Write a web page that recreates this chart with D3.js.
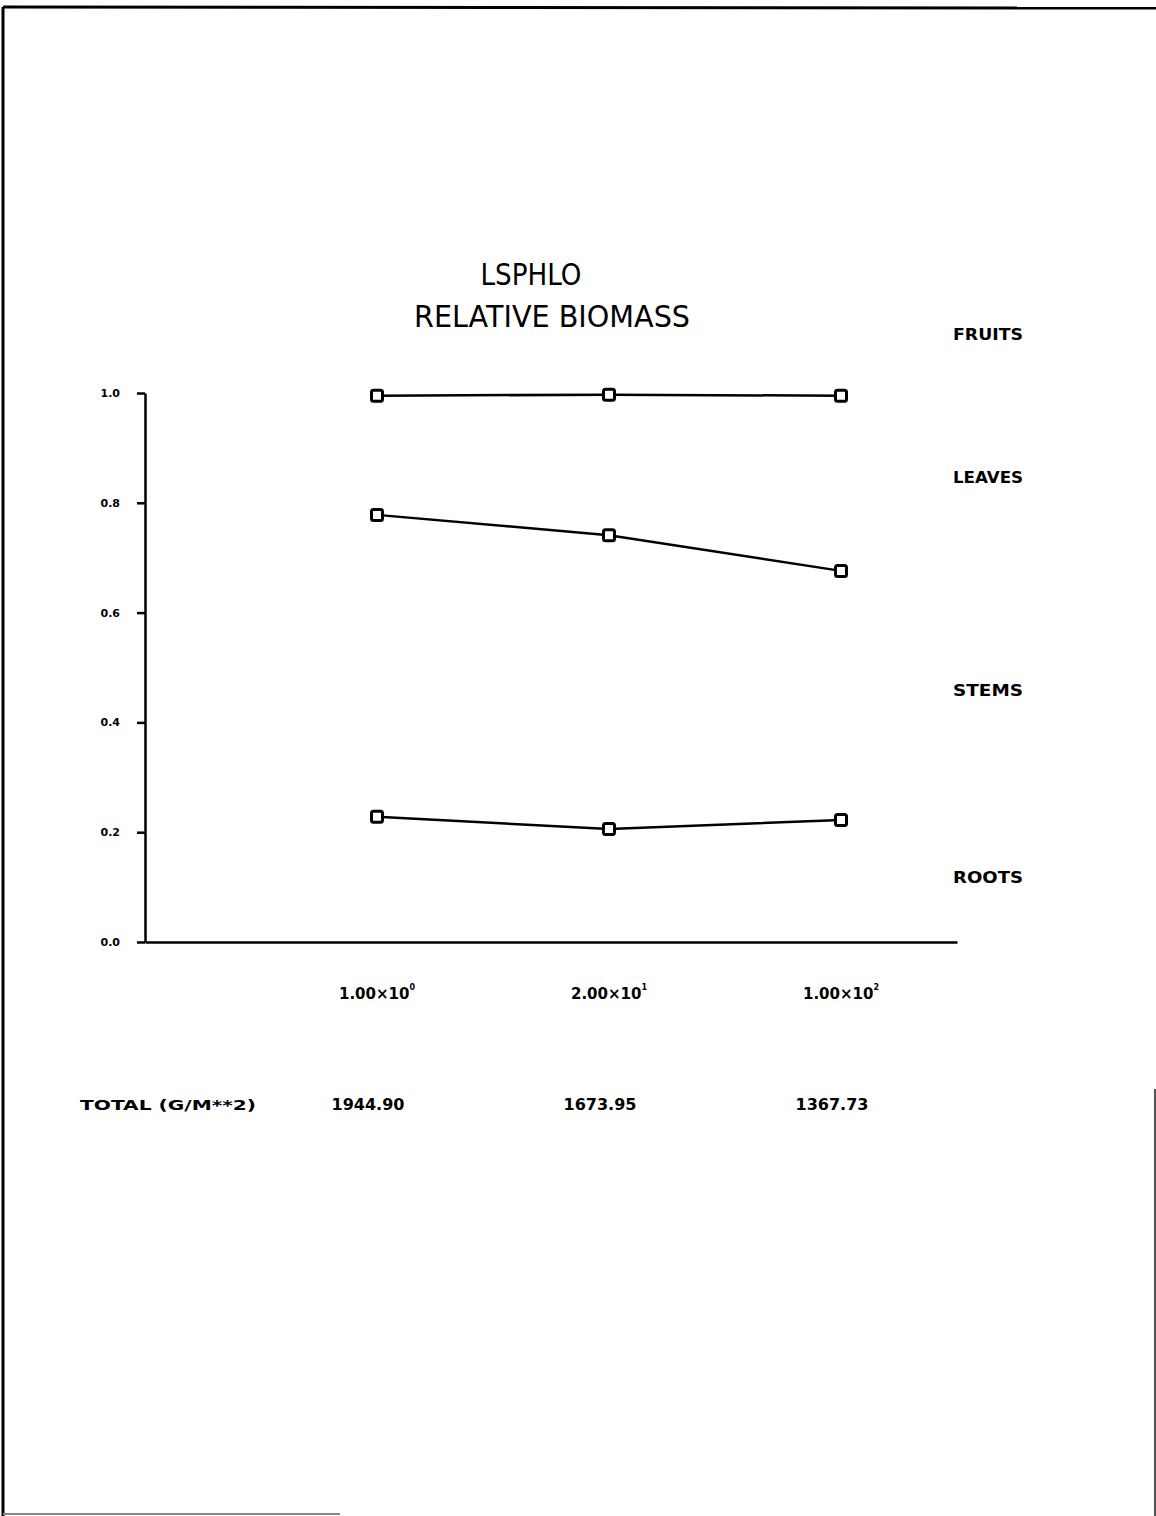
<!DOCTYPE html>
<html><head><meta charset="utf-8">
<script src="https://cdn.jsdelivr.net/npm/d3@7"></script>
<style>body{margin:0;background:#fff}svg{display:block}</style>
</head><body>
<script>
const categories = ["1.00×10|0", "2.00×10|1", "1.00×10|2"];
const totals = ["1944.90", "1673.95", "1367.73"];
const leavesTop = [0.995, 0.997, 0.995];
const stemsTop = [0.778, 0.741, 0.676];
const rootsTop = [0.228, 0.206, 0.222];
const yTicks = [0.0, 0.2, 0.4, 0.6, 0.8, 1.0];
const regionLabels = [
  {name: "FRUITS", v: 1.11},
  {name: "LEAVES", v: 0.848},
  {name: "STEMS", v: 0.461},
  {name: "ROOTS", v: 0.121}
];

const W = 1156, H = 1516;
const svg = d3.select("body").append("svg").attr("width", W).attr("height", H);

// page border
svg.append("line").attr("x1",3).attr("x2",3).attr("y1",7).attr("y2",H).attr("stroke","#000").attr("stroke-width",3);
svg.append("line").attr("x1",3).attr("x2",W).attr("y1",7).attr("y2",8).attr("stroke","#000").attr("stroke-width",3);
svg.append("line").attr("x1",3).attr("x2",340).attr("y1",1514).attr("y2",1514).attr("stroke","#888").attr("stroke-width",2);
svg.append("line").attr("x1",1155).attr("x2",1155).attr("y1",1089).attr("y2",H).attr("stroke","#555").attr("stroke-width",2);

const y = d3.scaleLinear().domain([0,1]).range([942,393]);
const x = d3.scalePoint().domain(d3.range(categories.length)).range([377,841]);

// title
const tf = "'DejaVu Sans', sans-serif";
svg.append("text").attr("x",531).attr("y",285).attr("text-anchor","middle")
  .attr("font-family",tf).attr("font-size",31).attr("textLength",101).attr("lengthAdjust","spacingAndGlyphs").text("LSPHLO");
svg.append("text").attr("x",552).attr("y",327).attr("text-anchor","middle")
  .attr("font-family",tf).attr("font-size",31).attr("textLength",276).attr("lengthAdjust","spacingAndGlyphs").text("RELATIVE BIOMASS");

// y axis
const yAxis = d3.axisLeft(y).tickValues(yTicks).tickFormat(d3.format(".1f")).tickSize(8).tickSizeOuter(0);
const ga = svg.append("g").attr("transform","translate(145,0)").call(yAxis);
ga.select(".domain").attr("stroke","#000").attr("stroke-width",2.5);
ga.selectAll(".tick line").attr("stroke","#000").attr("stroke-width",2.5);
ga.selectAll(".tick text").attr("font-family","'DejaVu Sans', sans-serif").attr("font-weight","bold")
  .attr("font-size",11).attr("fill","#000").attr("x",-25);

// x axis line
const xAxis = d3.axisBottom(d3.scaleLinear().domain([0,1]).range([145,957])).ticks(0).tickSize(0).tickSizeOuter(0);
const gx = svg.append("g").attr("transform","translate(0,942)").call(xAxis);
gx.select(".domain").attr("stroke","#000").attr("stroke-width",2.5);

// x category labels
const bf = "'DejaVu Sans', sans-serif";
categories.forEach((c,i)=>{
  const [base, exp] = c.split("|");
  const t = svg.append("text").attr("x",x(i)).attr("y",999).attr("text-anchor","middle")
    .attr("font-family",bf).attr("font-weight","bold").attr("font-size",15).attr("fill","#000");
  t.append("tspan").text(base);
  t.append("tspan").attr("dy",-9).attr("font-size",8).text(exp);
});

// totals row
svg.append("text").attr("x",80).attr("y",1110).attr("font-family",bf).attr("font-weight","bold")
  .attr("font-size",14).attr("textLength",176).attr("lengthAdjust","spacingAndGlyphs").text("TOTAL (G/M**2)");
totals.forEach((t,i)=>{
  svg.append("text").attr("x",x(i)-9).attr("y",1110).attr("text-anchor","middle")
    .attr("font-family",bf).attr("font-weight","bold").attr("font-size",16).text(t);
});

// region labels
regionLabels.forEach(r=>{
  svg.append("text").attr("x",953).attr("y",y(r.v)+7).attr("font-family",bf).attr("font-weight","bold")
    .attr("font-size",16).attr("textLength",70).attr("lengthAdjust","spacingAndGlyphs").text(r.name);
});

// lines
const line = d3.line().x((d,i)=>x(i)).y(d=>y(d));
[leavesTop, stemsTop, rootsTop].forEach(s=>{
  svg.append("path").datum(s).attr("d",line).attr("fill","none").attr("stroke","#000").attr("stroke-width",2.5);
  svg.selectAll(null).data(s).enter().append("rect")
    .attr("x",(d,i)=>x(i)-5.5).attr("y",d=>y(d)-5.5).attr("width",11).attr("height",11)
    .attr("fill","#fff").attr("stroke","#000").attr("stroke-width",3).attr("rx",2);
});
</script>
</body></html>
